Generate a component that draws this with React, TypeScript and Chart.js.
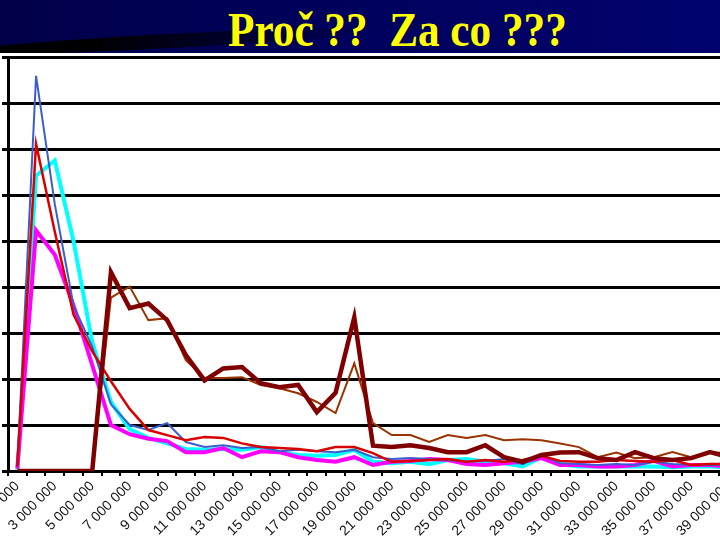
import React, { useEffect, useRef } from "react";
import { Chart, registerables } from "chart.js";

Chart.register(...registerables);

const categories: string[] = Array.from({ length: 39 }, (_, i) => `${i + 1} 000 000`);

const seriesBlue = [0.1, 8.59, 5.8, 3.6, 2.7, 1.45, 1.0, 0.89, 1.04, 0.63, 0.52, 0.56, 0.5, 0.52, 0.43, 0.46, 0.43, 0.41, 0.46, 0.3, 0.26, 0.28, 0.26, 0.24, 0.2, 0.22, 0.26, 0.15, 0.35, 0.17, 0.15, 0.13, 0.15, 0.13, 0.2, 0.15, 0.13, 0.13, 0.13];
const seriesRed = [0.1, 7.11, 5.2, 3.4, 2.6, 1.95, 1.35, 0.89, 0.78, 0.67, 0.74, 0.72, 0.6, 0.52, 0.5, 0.48, 0.43, 0.52, 0.52, 0.39, 0.2, 0.22, 0.24, 0.26, 0.2, 0.24, 0.2, 0.24, 0.33, 0.22, 0.2, 0.2, 0.24, 0.22, 0.2, 0.24, 0.13, 0.15, 0.15];
const seriesCyan = [0.03, 6.42, 6.75, 5.0, 2.8, 1.5, 0.91, 0.72, 0.6, 0.48, 0.46, 0.48, 0.46, 0.52, 0.41, 0.35, 0.33, 0.35, 0.46, 0.2, 0.17, 0.2, 0.15, 0.24, 0.26, 0.2, 0.17, 0.1, 0.3, 0.15, 0.1, 0.1, 0.1, 0.1, 0.1, 0.08, 0.1, 0.1, 0.08];
const seriesMagenta = [0.05, 5.23, 4.7, 3.6, 2.3, 1.0, 0.8, 0.7, 0.65, 0.41, 0.41, 0.5, 0.3, 0.43, 0.41, 0.3, 0.24, 0.2, 0.3, 0.13, 0.2, 0.22, 0.26, 0.24, 0.15, 0.13, 0.17, 0.2, 0.28, 0.13, 0.13, 0.1, 0.1, 0.13, 0.22, 0.1, 0.13, 0.13, 0.1];
const seriesMaroon = [0, 0, 0, 0, 0, 4.32, 3.54, 3.64, 3.28, 2.52, 1.97, 2.23, 2.26, 1.91, 1.82, 1.87, 1.28, 1.7, 3.34, 0.55, 0.52, 0.56, 0.5, 0.41, 0.41, 0.56, 0.3, 0.2, 0.35, 0.4, 0.41, 0.28, 0.24, 0.41, 0.28, 0.24, 0.28, 0.41, 0.3];
const seriesBrown = [0, 0, 0, 0, 0, 3.77, 4.01, 3.28, 3.32, 2.41, 2.02, 2.02, 2.04, 1.87, 1.8, 1.69, 1.5, 1.26, 2.34, 1.04, 0.78, 0.78, 0.63, 0.78, 0.72, 0.78, 0.67, 0.69, 0.67, 0.6, 0.52, 0.3, 0.4, 0.28, 0.3, 0.41, 0.3, 0.41, 0.39];

const yTicks = [0, 1, 2, 3, 4, 5, 6, 7, 8, 9];

export default function App() {
  const canvasRef = useRef<HTMLCanvasElement | null>(null);

  useEffect(() => {
    const canvas = canvasRef.current;
    if (!canvas) return;
    const mk = (label: string, data: number[], color: string, width: number, order: number) => ({
      label,
      data,
      borderColor: color,
      backgroundColor: color,
      borderWidth: width,
      pointRadius: 0,
      tension: 0,
      fill: false,
      order,
    });
    const chart = new Chart(canvas, {
      type: "line",
      data: {
        labels: categories,
        datasets: [
          mk("A", seriesCyan, "#00FFFF", 4, 6),
          mk("B", seriesMagenta, "#FF00FF", 4, 5),
          mk("C", seriesBlue, "#3A5FCD", 2, 4),
          mk("D", seriesRed, "#D80000", 2.5, 3),
          mk("E", seriesBrown, "#993300", 2, 2),
          mk("F", seriesMaroon, "#800000", 4.5, 1),
        ],
      },
      options: {
        animation: false,
        responsive: false,
        devicePixelRatio: 1,
        layout: { autoPadding: false, padding: { top: 5, left: 0, right: 0, bottom: 0 } },
        plugins: { legend: { display: false }, title: { display: false }, tooltip: { enabled: false } },
        scales: {
          x: {
            type: "category",
            offset: true,
            afterFit: (s: any) => { s.height = 69; s.paddingLeft = 0; s.paddingRight = 0; },
            grid: { display: true, offset: true, drawOnChartArea: false, drawTicks: true, tickLength: 5, color: "#000", lineWidth: 2 },
            border: { display: true, color: "#000", width: 3 },
            ticks: {
              autoSkip: false,
              minRotation: 45,
              maxRotation: 45,
              padding: 2,
              color: "#111",
              font: { family: "Liberation Sans, Arial, sans-serif", size: 14, weight: "normal" },
              callback: (_v: any, i: number) => (i % 2 === 0 ? categories[i] : ""),
            },
          },
          y: {
            min: yTicks[0],
            max: yTicks[yTicks.length - 1],
            afterFit: (s: any) => { s.width = 8; s.paddingTop = 0; s.paddingBottom = 0; },
            afterBuildTicks: (s: any) => { s.ticks = yTicks.map((v) => ({ value: v })); },
            grid: { color: "#000", lineWidth: 3, drawTicks: true, tickLength: 6 },
            border: { display: true, color: "#000", width: 3 },
            ticks: { display: false },
          },
        },
      },
    });
    return () => chart.destroy();
  }, []);

  return (
    <div style={{ position: "fixed", left: 0, top: 0, width: 720, height: 540, overflow: "hidden", background: "#fff" }}>
      <div
        style={{
          position: "absolute",
          left: 0,
          top: 0,
          width: 720,
          height: 53,
          background: "linear-gradient(90deg, #000048 0%, #00005a 40%, #02026e 100%)",
          overflow: "hidden",
        }}
      >
        <div
          style={{
            position: "absolute",
            left: -40,
            top: 34,
            width: 420,
            height: 14,
            borderRadius: "50%",
            background: "linear-gradient(90deg, #000 0%, #000 30%, rgba(0,0,0,0) 100%)",
            transform: "rotate(-3deg)",
          }}
        />
        <div
          style={{
            position: "absolute",
            left: 228,
            top: 0,
            height: 53,
            lineHeight: "60px",
            fontFamily: "'Liberation Serif', 'Times New Roman', serif",
            fontWeight: "bold",
            fontSize: 48,
            color: "#FFFF00",
            whiteSpace: "pre",
            transform: "scaleX(0.9)",
            transformOrigin: "left center",
          }}
        >
          {"Proč ??  Za co ???"}
        </div>
      </div>
      <canvas ref={canvasRef} width={738} height={488} style={{ position: "absolute", left: 0, top: 52 }} />
    </div>
  );
}
